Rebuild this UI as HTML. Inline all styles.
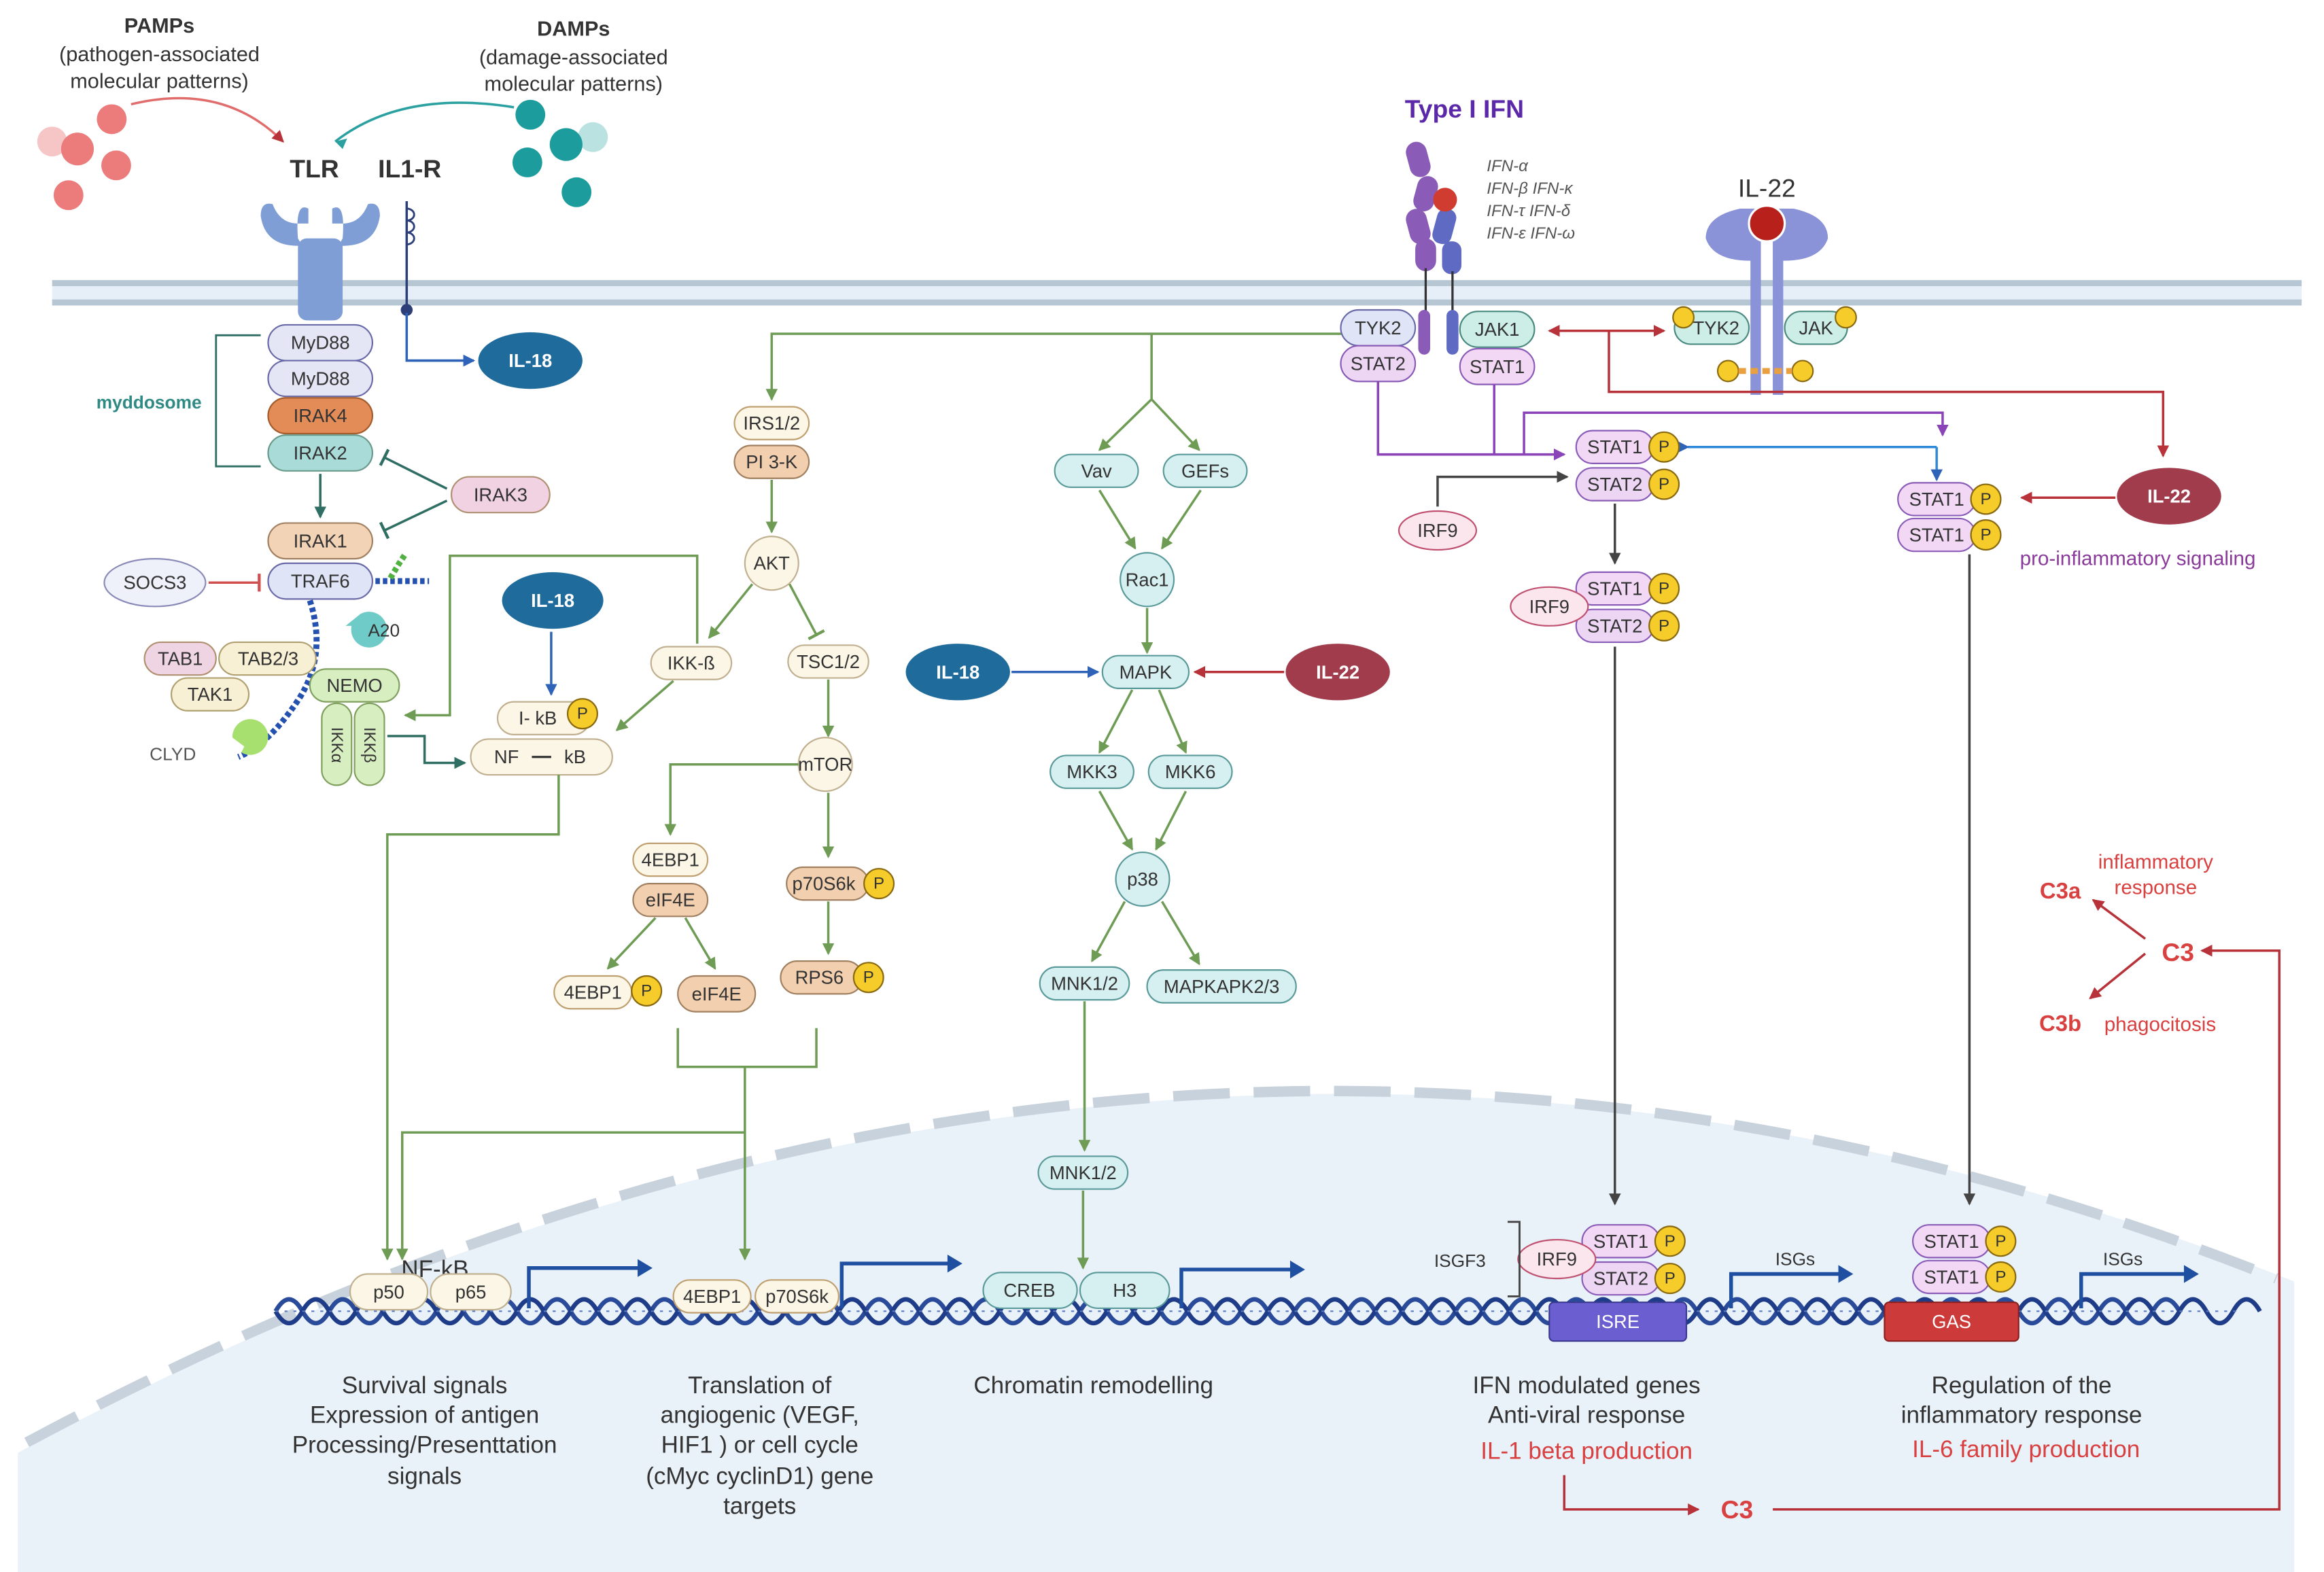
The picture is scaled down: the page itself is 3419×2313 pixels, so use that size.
<!DOCTYPE html>
<html><head><meta charset="utf-8"><style>
html,body{margin:0;padding:0;background:#fff}
svg{display:block}
text{font-family:"Liberation Sans",sans-serif;}
.n{font-size:12.5px;fill:#333;text-anchor:middle;dominant-baseline:central}
.b{font-weight:bold}
.w{fill:#fff;font-weight:bold}
.lbl{font-size:16px;fill:#333;text-anchor:middle}
.red{fill:#d94040}
.g{stroke:#6e9c55;stroke-width:1.6;fill:none}
.t{stroke:#2f6e62;stroke-width:1.6;fill:none}
.bl{stroke:#2e63b8;stroke-width:1.6;fill:none}
.rd{stroke:#b8323a;stroke-width:1.6;fill:none}
.pu{stroke:#8a44b8;stroke-width:1.6;fill:none}
.gy{stroke:#444;stroke-width:1.6;fill:none}
</style></head><body>
<svg width="3419" height="2313" viewBox="0 0 1560 1055" preserveAspectRatio="none" xmlns="http://www.w3.org/2000/svg">
<defs>
<marker id="ag" markerWidth="8" markerHeight="8" refX="7" refY="4" orient="auto" markerUnits="userSpaceOnUse"><path d="M0,0L8,4L0,8z" fill="#6e9c55"/></marker>
<marker id="at" markerWidth="8" markerHeight="8" refX="7" refY="4" orient="auto" markerUnits="userSpaceOnUse"><path d="M0,0L8,4L0,8z" fill="#2f6e62"/></marker>
<marker id="ab" markerWidth="8" markerHeight="8" refX="7" refY="4" orient="auto" markerUnits="userSpaceOnUse"><path d="M0,0L8,4L0,8z" fill="#2e63b8"/></marker>
<marker id="ar" markerWidth="8" markerHeight="8" refX="7" refY="4" orient="auto-start-reverse" markerUnits="userSpaceOnUse"><path d="M0,0L8,4L0,8z" fill="#b8323a"/></marker>
<marker id="ap" markerWidth="8" markerHeight="8" refX="7" refY="4" orient="auto" markerUnits="userSpaceOnUse"><path d="M0,0L8,4L0,8z" fill="#8a44b8"/></marker>
<marker id="ay" markerWidth="8" markerHeight="8" refX="7" refY="4" orient="auto" markerUnits="userSpaceOnUse"><path d="M0,0L8,4L0,8z" fill="#444"/></marker>
<marker id="tt" markerWidth="2" markerHeight="12" refX="1" refY="6" orient="auto" markerUnits="userSpaceOnUse"><rect x="0" y="0" width="2" height="12" fill="#2f6e62"/></marker>
<marker id="tr" markerWidth="2" markerHeight="12" refX="1" refY="6" orient="auto" markerUnits="userSpaceOnUse"><rect x="0" y="0" width="2" height="12" fill="#d05050"/></marker>
<marker id="tg" markerWidth="2" markerHeight="12" refX="1" refY="6" orient="auto" markerUnits="userSpaceOnUse"><rect x="0" y="0" width="2" height="12" fill="#6e9c55"/></marker>
</defs>

<!-- nucleus -->
<path d="M12 1055 L12 975 Q 780 560 1540 860 L1540 1055 Z" fill="#e9f1f9"/>
<path d="M18 968 Q 780 560 1528 858" fill="none" stroke="#c8d2dc" stroke-width="7" stroke-dasharray="38 16"/>

<!-- membrane -->
<rect x="35" y="189" width="1510" height="15" fill="#e6eef7"/>
<line x1="35" y1="190" x2="1545" y2="190" stroke="#b7c6d3" stroke-width="4"/>
<line x1="35" y1="203" x2="1545" y2="203" stroke="#b7c6d3" stroke-width="4"/>

<!-- PAMPs / DAMPs -->
<text x="107" y="22" class="lbl b" style="font-size:14px">PAMPs</text>
<text x="107" y="41" class="lbl" style="font-size:14px">(pathogen-associated</text>
<text x="107" y="59" class="lbl" style="font-size:14px">molecular patterns)</text>
<text x="385" y="24" class="lbl b" style="font-size:14px">DAMPs</text>
<text x="385" y="43" class="lbl" style="font-size:14px">(damage-associated</text>
<text x="385" y="61" class="lbl" style="font-size:14px">molecular patterns)</text>
<circle cx="35" cy="95" r="10" fill="#f6c6c6"/><circle cx="52" cy="100" r="11" fill="#ec7b7b"/>
<circle cx="75" cy="80" r="10" fill="#ec7b7b"/><circle cx="78" cy="111" r="10" fill="#ec7b7b"/><circle cx="46" cy="131" r="10" fill="#ec7b7b"/>
<circle cx="356" cy="77" r="10" fill="#1c9c9c"/><circle cx="398" cy="92" r="10" fill="#b9e2e0"/><circle cx="380" cy="97" r="11" fill="#1c9c9c"/>
<circle cx="354" cy="109" r="10" fill="#1c9c9c"/><circle cx="387" cy="129" r="10" fill="#1c9c9c"/>
<path d="M88 70 Q 150 55 190 95" fill="none" stroke="#e06c6c" stroke-width="1.6" marker-end="url(#ar)"/>
<path d="M345 72 Q 270 60 225 95" fill="none" stroke="#2aa0a0" stroke-width="1.6"/>
<path d="M225 95 l8 -2 l-3 7z" fill="#2aa0a0"/>
<text x="211" y="119" class="lbl b" style="font-size:17px">TLR</text>
<text x="275" y="119" class="lbl b" style="font-size:17px">IL1-R</text>

<!-- TLR receptor -->
<path d="M175 145 Q175 135 183 137 Q188 150 200 150 L207 150 L207 140 Q198 135 200 160 Q205 168 207 175 L207 215 L223 215 L223 175 Q225 168 230 160 Q232 135 223 140 L223 150 L230 150 Q242 150 247 137 Q255 135 255 145 Q252 165 230 165 L200 165 Q178 165 175 145Z" fill="#7f9ed6"/>
<rect x="200" y="160" width="30" height="55" rx="6" fill="#7f9ed6"/>
<!-- IL1-R -->
<line x1="273" y1="135" x2="273" y2="208" stroke="#2c3f78" stroke-width="1.6"/>
<path d="M273 140 a5 4 0 1 1 0 8 a5 4 0 1 1 0 8 a5 4 0 1 1 0 8" fill="none" stroke="#2c3f78" stroke-width="1.3"/>
<circle cx="273" cy="208" r="4" fill="#2c3f78"/>
<path d="M273 210 L273 242 L318 242" class="bl" marker-end="url(#ab)"/>
<ellipse cx="356" cy="242" rx="35" ry="19" fill="#1f6b9c"/><text x="356" y="242" class="n w">IL-18</text>

<!-- myddosome -->
<path d="M175 225 L145 225 L145 313 L175 313" fill="none" stroke="#2f6e62" stroke-width="1.3"/>
<text x="100" y="270" class="n b" style="fill:#2f8a84;font-size:12px">myddosome</text>
<rect x="180" y="218" width="70" height="24" rx="12" fill="#e4e6f6" stroke="#6a6aa8"/><text x="215" y="230" class="n">MyD88</text>
<rect x="180" y="242" width="70" height="24" rx="12" fill="#e4e6f6" stroke="#6a6aa8"/><text x="215" y="254" class="n">MyD88</text>
<rect x="180" y="267" width="70" height="24" rx="12" fill="#e48c57" stroke="#a45c2c"/><text x="215" y="279" class="n">IRAK4</text>
<rect x="180" y="292" width="70" height="24" rx="12" fill="#a9dcd9" stroke="#6a9a8a"/><text x="215" y="304" class="n">IRAK2</text>
<line x1="215" y1="318" x2="215" y2="347" class="t" marker-end="url(#at)"/>
<rect x="303" y="320" width="66" height="24" rx="12" fill="#f0d2e2" stroke="#b09070"/><text x="336" y="332" class="n">IRAK3</text>
<line x1="300" y1="328" x2="258" y2="307" class="t" marker-end="url(#tt)"/>
<line x1="300" y1="336" x2="258" y2="356" class="t" marker-end="url(#tt)"/>
<rect x="180" y="351" width="70" height="24" rx="12" fill="#f2d3b5" stroke="#a08060"/><text x="215" y="363" class="n">IRAK1</text>
<rect x="180" y="378" width="70" height="24" rx="12" fill="#dfe4f6" stroke="#6a6aa8"/><text x="215" y="390" class="n">TRAF6</text>
<ellipse cx="104" cy="391" rx="34" ry="16" fill="#eef0fa" stroke="#8a8ab8"/><text x="104" y="391" class="n">SOCS3</text>
<line x1="140" y1="391" x2="174" y2="391" stroke="#d05050" stroke-width="1.6" marker-end="url(#tr)"/>
<!-- ubiquitin chains -->
<path d="M252 390 L288 390" stroke="#2450b0" stroke-width="4" stroke-dasharray="3 2"/>
<path d="M262 388 L268 378 L272 372" stroke="#50b040" stroke-width="4" stroke-dasharray="3 2" fill="none"/>
<path d="M208 403 Q 220 440 200 470 Q 180 500 160 508" stroke="#2450b0" stroke-width="4" stroke-dasharray="3 2" fill="none"/>
<path d="M236 420 a12 12 0 1 0 6 -8 l-10 8z" fill="#6fcbc8"/>
<text x="247" y="423" class="n" style="text-anchor:start;font-size:12px">A20</text>
<path d="M162 505 a12 12 0 1 0 -6 -10 l8 6z" fill="#a8e070"/>
<text x="116" y="506" class="n" style="font-size:12px;fill:#555">CLYD</text>
<rect x="97" y="431" width="48" height="22" rx="11" fill="#efd5e3" stroke="#b09070"/><text x="121" y="442" class="n">TAB1</text>
<rect x="147" y="431" width="65" height="22" rx="11" fill="#f8f0d4" stroke="#b0a070"/><text x="180" y="442" class="n">TAB2/3</text>
<rect x="115" y="455" width="52" height="22" rx="11" fill="#f8f0d4" stroke="#b0a070"/><text x="141" y="466" class="n">TAK1</text>
<rect x="208" y="449" width="60" height="22" rx="11" fill="#d7eec1" stroke="#80a060"/><text x="238" y="460" class="n">NEMO</text>
<rect x="216" y="472" width="20" height="55" rx="10" fill="#d7eec1" stroke="#80a060"/>
<rect x="238" y="472" width="20" height="55" rx="10" fill="#d7eec1" stroke="#80a060"/>
<text x="226" y="500" class="n" transform="rotate(90 226 500)" style="font-size:11px">IKKα</text>
<text x="248" y="500" class="n" transform="rotate(90 248 500)" style="font-size:11px">IKKβ</text>
<path d="M260 494 L285 494 L285 512 L312 512" class="t" marker-end="url(#at)"/>
<path d="M468 432 L468 373 L302 373 L302 480 L272 480" class="g" marker-end="url(#ag)"/>
<ellipse cx="371" cy="403" rx="34" ry="19" fill="#1f6b9c"/><text x="371" y="403" class="n w">IL-18</text>
<line x1="370" y1="424" x2="370" y2="466" class="bl" marker-end="url(#ab)"/>
<rect x="334" y="471" width="62" height="22" rx="11" fill="#fbf6e6" stroke="#c0b090"/><text x="361" y="482" class="n">I- kB</text>
<circle cx="391" cy="479" r="10" fill="#f5cc2a" stroke="#8a6a10"/><text x="391" y="479" class="n" style="font-size:11px">P</text>
<rect x="316" y="496" width="95" height="24" rx="12" fill="#fbf6e6" stroke="#c0b090"/><text x="340" y="508" class="n">NF</text><line x1="357" y1="508" x2="370" y2="508" stroke="#333" stroke-width="1.5"/><text x="386" y="508" class="n">kB</text>
<path d="M375 520 L375 560 L260 560 L260 845" class="g" marker-end="url(#ag)"/>

<!-- PI3K / mTOR -->
<path d="M905 224 L518 224 L518 268" class="g" marker-end="url(#ag)"/>
<path d="M773 224 L773 268 L738 302" class="g" marker-end="url(#ag)"/>
<path d="M773 268 L805 302" class="g" marker-end="url(#ag)"/>
<rect x="493" y="273" width="50" height="22" rx="11" fill="#fbf6e6" stroke="#c0a070"/><text x="518" y="284" class="n">IRS1/2</text>
<rect x="493" y="299" width="50" height="22" rx="11" fill="#f2cfae" stroke="#a08060"/><text x="518" y="310" class="n">PI 3-K</text>
<line x1="518" y1="322" x2="518" y2="357" class="g" marker-end="url(#ag)"/>
<circle cx="518" cy="378" r="18" fill="#fbf6e6" stroke="#c0b090"/><text x="518" y="378" class="n">AKT</text>
<line x1="505" y1="392" x2="476" y2="428" class="g" marker-end="url(#ag)"/>
<line x1="530" y1="392" x2="548" y2="426" class="g" marker-end="url(#tg)"/>
<rect x="437" y="434" width="54" height="22" rx="11" fill="#fbf6e6" stroke="#c0b090"/><text x="464" y="445" class="n">IKK-ß</text>
<line x1="452" y1="457" x2="414" y2="490" class="g" marker-end="url(#ag)"/>
<rect x="529" y="433" width="54" height="22" rx="11" fill="#fbf6e6" stroke="#c0b090"/><text x="556" y="444" class="n">TSC1/2</text>
<line x1="556" y1="456" x2="556" y2="494" class="g" marker-end="url(#ag)"/>
<circle cx="554" cy="513" r="18" fill="#fbf6e6" stroke="#c0b090"/><text x="554" y="513" class="n">mTOR</text>
<path d="M536 513 L450 513 L450 560" class="g" marker-end="url(#ag)"/>
<line x1="556" y1="532" x2="556" y2="575" class="g" marker-end="url(#ag)"/>
<rect x="425" y="566" width="50" height="22" rx="11" fill="#fbf6e6" stroke="#c0a070"/><text x="450" y="577" class="n">4EBP1</text>
<rect x="425" y="593" width="50" height="22" rx="11" fill="#f2cfae" stroke="#a08060"/><text x="450" y="604" class="n">eIF4E</text>
<line x1="440" y1="616" x2="408" y2="650" class="g" marker-end="url(#ag)"/>
<line x1="460" y1="616" x2="480" y2="650" class="g" marker-end="url(#ag)"/>
<rect x="528" y="582" width="55" height="22" rx="11" fill="#f2cfae" stroke="#a08060"/><text x="553" y="593" class="n">p70S6k</text>
<circle cx="590" cy="593" r="10" fill="#f5cc2a" stroke="#8a6a10"/><text x="590" y="593" class="n" style="font-size:11px">P</text>
<line x1="556" y1="605" x2="556" y2="640" class="g" marker-end="url(#ag)"/>
<rect x="524" y="645" width="55" height="22" rx="11" fill="#f2cfae" stroke="#a08060"/><text x="550" y="656" class="n">RPS6</text>
<circle cx="583" cy="656" r="10" fill="#f5cc2a" stroke="#8a6a10"/><text x="583" y="656" class="n" style="font-size:11px">P</text>
<rect x="372" y="655" width="52" height="22" rx="11" fill="#fbf6e6" stroke="#c0a070"/><text x="398" y="666" class="n">4EBP1</text>
<circle cx="434" cy="665" r="10" fill="#f5cc2a" stroke="#8a6a10"/><text x="434" y="665" class="n" style="font-size:11px">P</text>
<rect x="455" y="655" width="52" height="24" rx="12" fill="#f2cfae" stroke="#a08060"/><text x="481" y="667" class="n">eIF4E</text>
<path d="M455 690 L455 716 L548 716 L548 690" class="g"/>
<path d="M500 716 L500 845" class="g" marker-end="url(#ag)"/>
<path d="M500 760 L270 760 L270 845" class="g" marker-end="url(#ag)"/>

<!-- MAPK -->
<rect x="708" y="305" width="56" height="22" rx="11" fill="#d6eff0" stroke="#5a9a9a"/><text x="736" y="316" class="n">Vav</text>
<rect x="781" y="305" width="56" height="22" rx="11" fill="#d6eff0" stroke="#5a9a9a"/><text x="809" y="316" class="n">GEFs</text>
<line x1="738" y1="329" x2="762" y2="368" class="g" marker-end="url(#ag)"/>
<line x1="806" y1="329" x2="780" y2="368" class="g" marker-end="url(#ag)"/>
<circle cx="770" cy="389" r="18" fill="#d6eff0" stroke="#5a9a9a"/><text x="770" y="389" class="n">Rac1</text>
<line x1="770" y1="408" x2="770" y2="438" class="g" marker-end="url(#ag)"/>
<rect x="740" y="440" width="58" height="22" rx="11" fill="#d6eff0" stroke="#5a9a9a"/><text x="769" y="451" class="n">MAPK</text>
<ellipse cx="643" cy="451" rx="35" ry="19" fill="#1f6b9c"/><text x="643" y="451" class="n w">IL-18</text>
<line x1="679" y1="451" x2="737" y2="451" class="bl" marker-end="url(#ab)"/>
<ellipse cx="898" cy="451" rx="35" ry="19" fill="#a03c4c"/><text x="898" y="451" class="n w">IL-22</text>
<line x1="862" y1="451" x2="802" y2="451" class="rd" marker-end="url(#ar)"/>
<line x1="760" y1="463" x2="738" y2="505" class="g" marker-end="url(#ag)"/>
<line x1="778" y1="463" x2="796" y2="505" class="g" marker-end="url(#ag)"/>
<rect x="705" y="507" width="56" height="22" rx="11" fill="#d6eff0" stroke="#5a9a9a"/><text x="733" y="518" class="n">MKK3</text>
<rect x="771" y="507" width="56" height="22" rx="11" fill="#d6eff0" stroke="#5a9a9a"/><text x="799" y="518" class="n">MKK6</text>
<line x1="738" y1="531" x2="760" y2="570" class="g" marker-end="url(#ag)"/>
<line x1="796" y1="531" x2="776" y2="570" class="g" marker-end="url(#ag)"/>
<circle cx="767" cy="590" r="18" fill="#d6eff0" stroke="#5a9a9a"/><text x="767" y="590" class="n">p38</text>
<line x1="755" y1="605" x2="733" y2="645" class="g" marker-end="url(#ag)"/>
<line x1="780" y1="605" x2="805" y2="647" class="g" marker-end="url(#ag)"/>
<rect x="698" y="649" width="60" height="22" rx="11" fill="#d6eff0" stroke="#5a9a9a"/><text x="728" y="660" class="n">MNK1/2</text>
<rect x="770" y="651" width="100" height="22" rx="11" fill="#d6eff0" stroke="#5a9a9a"/><text x="820" y="662" class="n">MAPKAPK2/3</text>
<line x1="728" y1="672" x2="728" y2="772" class="g" marker-end="url(#ag)"/>
<rect x="697" y="776" width="60" height="22" rx="11" fill="#d6eff0" stroke="#5a9a9a"/><text x="727" y="787" class="n">MNK1/2</text>
<line x1="727" y1="799" x2="727" y2="851" class="g" marker-end="url(#ag)"/>

<!-- Type I IFN -->
<text x="983" y="79" class="lbl b" style="fill:#5a28a8;font-size:17px">Type I IFN</text>
<g fill="#8a5cb8"><rect x="945" y="95" width="14" height="24" rx="7" transform="rotate(-15 952 107)"/><rect x="950" y="118" width="14" height="24" rx="7" transform="rotate(15 957 130)"/><rect x="945" y="140" width="14" height="24" rx="7" transform="rotate(-15 952 152)"/><rect x="950" y="160" width="14" height="22" rx="7"/></g>
<line x1="957" y1="180" x2="957" y2="210" stroke="#333" stroke-width="1.5"/>
<rect x="952" y="208" width="8" height="30" rx="4" fill="#8a5cb8"/>
<g fill="#5f6ac2"><rect x="963" y="140" width="13" height="24" rx="6" transform="rotate(15 970 152)"/><rect x="968" y="162" width="13" height="22" rx="6"/></g>
<circle cx="970" cy="134" r="8" fill="#d03c30"/>
<line x1="975" y1="182" x2="975" y2="210" stroke="#333" stroke-width="1.5"/>
<rect x="971" y="208" width="8" height="30" rx="4" fill="#5f6ac2"/>
<g style="font-size:11px;fill:#555;font-style:italic"><text x="998" y="115">IFN-α</text><text x="998" y="130">IFN-β  IFN-κ</text><text x="998" y="145">IFN-τ  IFN-δ</text><text x="998" y="160">IFN-ε  IFN-ω</text></g>
<rect x="900" y="208" width="50" height="24" rx="12" fill="#dfe4f6" stroke="#6a6aa8"/><text x="925" y="220" class="n">TYK2</text>
<rect x="900" y="232" width="50" height="24" rx="12" fill="#ecd6f4" stroke="#8a5cb8"/><text x="925" y="244" class="n">STAT2</text>
<rect x="980" y="209" width="50" height="24" rx="12" fill="#cdeee6" stroke="#4a8a80"/><text x="1005" y="221" class="n">JAK1</text>
<rect x="980" y="234" width="50" height="24" rx="12" fill="#f3d8f6" stroke="#8a5cb8"/><text x="1005" y="246" class="n">STAT1</text>

<!-- IL-22 receptor -->
<text x="1186" y="132" class="lbl" style="font-size:17px">IL-22</text>
<path d="M1168 140 Q1145 145 1145 160 Q1150 175 1175 175 L1175 265 L1182 265 L1182 140Z" fill="#8a92d8"/>
<path d="M1204 140 Q1227 145 1227 160 Q1222 175 1197 175 L1197 265 L1190 265 L1190 140Z" fill="#8a92d8"/>
<circle cx="1186" cy="150" r="12" fill="#b8201c" stroke="#fff" stroke-width="1.5"/>
<rect x="1124" y="209" width="50" height="22" rx="11" fill="#cdeee6" stroke="#4a8a80"/><text x="1152" y="220" class="n">TYK2</text>
<rect x="1198" y="209" width="42" height="22" rx="11" fill="#cdeee6" stroke="#4a8a80"/><text x="1219" y="220" class="n">JAK</text>
<circle cx="1130" cy="213" r="7" fill="#f5cc2a" stroke="#8a6a10"/><circle cx="1239" cy="213" r="7" fill="#f5cc2a" stroke="#8a6a10"/>
<circle cx="1160" cy="249" r="7" fill="#f5cc2a" stroke="#8a6a10"/><circle cx="1210" cy="249" r="7" fill="#f5cc2a" stroke="#8a6a10"/>
<line x1="1167" y1="249" x2="1203" y2="249" stroke="#e8a040" stroke-width="4" stroke-dasharray="5 3"/>
<line x1="1040" y1="222" x2="1117" y2="222" class="rd" marker-end="url(#ar)" marker-start="url(#ar)"/>
<path d="M1080 222 L1080 263 L1452 263 L1452 306" class="rd" marker-end="url(#ar)"/>
<path d="M925 256 L925 305 L1050 305" class="pu" marker-end="url(#ap)"/>
<path d="M1003 258 L1003 305" class="pu"/>
<path d="M1023 305 L1023 277 L1304 277 L1304 292" class="pu" marker-end="url(#ap)"/>
<line x1="1133" y1="300" x2="1300" y2="300" stroke="#2e8ad8" stroke-width="1.6" marker-start="url(#ab)"/>
<line x1="1300" y1="300" x2="1300" y2="322" stroke="#2e8ad8" stroke-width="1.6" marker-end="url(#ab)"/>
<path d="M965 340 L965 320 L1052 320" class="gy" marker-end="url(#ay)"/>
<ellipse cx="965" cy="356" rx="26" ry="13" fill="#fbe6ee" stroke="#c05070"/><text x="965" y="356" class="n">IRF9</text>

<!-- STAT dimers -->
<g id="d1">
<rect x="1058" y="289" width="52" height="22" rx="11" fill="#f3d8f6" stroke="#8a5cb8"/><text x="1084" y="300" class="n">STAT1</text>
<rect x="1058" y="314" width="52" height="22" rx="11" fill="#ecd6f4" stroke="#8a5cb8"/><text x="1084" y="325" class="n">STAT2</text>
<circle cx="1117" cy="300" r="10" fill="#f5cc2a" stroke="#8a6a10"/><text x="1117" y="300" class="n" style="font-size:11px">P</text>
<circle cx="1117" cy="325" r="10" fill="#f5cc2a" stroke="#8a6a10"/><text x="1117" y="325" class="n" style="font-size:11px">P</text>
</g>
<use href="#d1" x="0" y="95"/>
<use href="#d1" x="4" y="533"/>
<line x1="1084" y1="338" x2="1084" y2="378" class="gy" marker-end="url(#ay)"/>
<ellipse cx="1040" cy="407" rx="26" ry="13" fill="#fbe6ee" stroke="#c05070"/><text x="1040" y="407" class="n">IRF9</text>
<line x1="1084" y1="434" x2="1084" y2="808" class="gy" marker-end="url(#ay)"/>
<g id="d2">
<rect x="1274" y="324" width="52" height="22" rx="11" fill="#f3d8f6" stroke="#8a5cb8"/><text x="1300" y="335" class="n">STAT1</text>
<rect x="1274" y="348" width="52" height="22" rx="11" fill="#f3d8f6" stroke="#8a5cb8"/><text x="1300" y="359" class="n">STAT1</text>
<circle cx="1333" cy="335" r="10" fill="#f5cc2a" stroke="#8a6a10"/><text x="1333" y="335" class="n" style="font-size:11px">P</text>
<circle cx="1333" cy="359" r="10" fill="#f5cc2a" stroke="#8a6a10"/><text x="1333" y="359" class="n" style="font-size:11px">P</text>
</g>
<use href="#d2" x="10" y="498"/>
<ellipse cx="1456" cy="333" rx="35" ry="19" fill="#a03c4c"/><text x="1456" y="333" class="n w">IL-22</text>
<line x1="1420" y1="334" x2="1357" y2="334" class="rd" marker-end="url(#ar)"/>
<text x="1435" y="375" class="n" style="fill:#8a3a9a;font-size:13.5px">pro-inflammatory signaling</text>
<line x1="1322" y1="372" x2="1322" y2="808" class="gy" marker-end="url(#ay)"/>

<!-- DNA -->
<path d="M185 880 q 9 -16 18 0 t 18 0 t 18 0 t 18 0 t 18 0 t 18 0 t 18 0 t 18 0 t 18 0 t 18 0 t 18 0 t 18 0 t 18 0 t 18 0 t 18 0 t 18 0 t 18 0 t 18 0 t 18 0 t 18 0 t 18 0 t 18 0 t 18 0 t 18 0 t 18 0 t 18 0 t 18 0 t 18 0 t 18 0 t 18 0 t 18 0 t 18 0 t 18 0 t 18 0 t 18 0 t 18 0 t 18 0 t 18 0 t 18 0 t 18 0 t 18 0 t 18 0 t 18 0 t 18 0 t 18 0 t 18 0 t 18 0 t 18 0 t 18 0 t 18 0 t 18 0 t 18 0 t 18 0 t 18 0 t 18 0 t 18 0 t 18 0 t 18 0 t 18 0 t 18 0 t 18 0 t 18 0 t 18 0 t 18 0 t 18 0 t 18 0 t 18 0 t 18 0 t 18 0 t 18 0 t 18 0" fill="none" stroke="#2a4a9a" stroke-width="3"/>
<path d="M185 880 q 9 16 18 0 t 18 0 t 18 0 t 18 0 t 18 0 t 18 0 t 18 0 t 18 0 t 18 0 t 18 0 t 18 0 t 18 0 t 18 0 t 18 0 t 18 0 t 18 0 t 18 0 t 18 0 t 18 0 t 18 0 t 18 0 t 18 0 t 18 0 t 18 0 t 18 0 t 18 0 t 18 0 t 18 0 t 18 0 t 18 0 t 18 0 t 18 0 t 18 0 t 18 0 t 18 0 t 18 0 t 18 0 t 18 0 t 18 0 t 18 0 t 18 0 t 18 0 t 18 0 t 18 0 t 18 0 t 18 0 t 18 0 t 18 0 t 18 0 t 18 0 t 18 0 t 18 0 t 18 0 t 18 0 t 18 0 t 18 0 t 18 0 t 18 0 t 18 0 t 18 0 t 18 0 t 18 0 t 18 0 t 18 0 t 18 0 t 18 0 t 18 0 t 18 0 t 18 0 t 18 0 t 18 0 t 18 0 t 18 0 t 18 0" fill="none" stroke="#1f3c88" stroke-width="3"/>
<path d="M185 880 h1320" stroke="#5a7ac0" stroke-width="1" stroke-dasharray="2 4"/>

<!-- nuclear complexes -->
<text x="292" y="857" class="lbl" style="font-size:16px">NF-kB</text>
<rect x="235" y="855" width="52" height="24" rx="12" fill="#fbf6e6" stroke="#c0b090"/><text x="261" y="867" class="n">p50</text>
<rect x="289" y="855" width="54" height="24" rx="12" fill="#fbf6e6" stroke="#c0b090"/><text x="316" y="867" class="n">p65</text>
<rect x="452" y="859" width="52" height="22" rx="11" fill="#fbf6e6" stroke="#c0a070"/><text x="478" y="870" class="n">4EBP1</text>
<rect x="507" y="859" width="56" height="22" rx="11" fill="#fbf6e6" stroke="#c0a070"/><text x="535" y="870" class="n">p70S6k</text>
<rect x="660" y="854" width="63" height="24" rx="12" fill="#d6eff0" stroke="#5a9a9a"/><text x="691" y="866" class="n">CREB</text>
<rect x="725" y="854" width="60" height="24" rx="12" fill="#d6eff0" stroke="#5a9a9a"/><text x="755" y="866" class="n">H3</text>
<g class="bl" style="stroke:#1f4fa0;stroke-width:2.5">
<path d="M355 878 L355 851 L430 851"/><path d="M565 878 L565 848 L638 848"/><path d="M793 878 L793 852 L868 852"/>
<path d="M1162 878 L1162 855 L1236 855"/><path d="M1397 878 L1397 855 L1468 855"/></g>
<g fill="#1f4fa0"><path d="M428 845 L438 851 L428 857z"/><path d="M636 842 L646 848 L636 854z"/><path d="M866 846 L876 852 L866 858z"/><path d="M1234 849 L1244 855 L1234 861z"/><path d="M1466 849 L1476 855 L1466 861z"/></g>
<text x="1205" y="845" class="n" style="font-size:12px">ISGs</text>
<text x="1425" y="845" class="n" style="font-size:12px">ISGs</text>
<ellipse cx="1045" cy="845" rx="26" ry="13" fill="#fbe6ee" stroke="#c05070"/><text x="1045" y="845" class="n">IRF9</text>
<path d="M1012 820 L1020 820 L1020 870 L1012 870" fill="none" stroke="#444" stroke-width="1.3"/>
<text x="980" y="846" class="n" style="font-size:12px">ISGF3</text>
<rect x="1040" y="874" width="92" height="26" rx="3" fill="#6a5ed0" stroke="#3a3a90"/><text x="1086" y="887" class="n w" style="font-weight:normal">ISRE</text>
<rect x="1265" y="874" width="90" height="26" rx="3" fill="#cc3a3a" stroke="#8a2020"/><text x="1310" y="887" class="n w" style="font-weight:normal">GAS</text>

<!-- bottom texts -->
<g class="lbl"><text x="285" y="935">Survival signals</text><text x="285" y="955">Expression of antigen</text><text x="285" y="975">Processing/Presenttation</text><text x="285" y="996">signals</text>
<text x="510" y="935">Translation of</text><text x="510" y="955">angiogenic (VEGF,</text><text x="510" y="975">HIF1 ) or cell cycle</text><text x="510" y="996">(cMyc cyclinD1) gene</text><text x="510" y="1016">targets</text>
<text x="734" y="935">Chromatin remodelling</text>
<text x="1065" y="935">IFN modulated genes</text><text x="1065" y="955">Anti-viral response</text><text x="1065" y="979" class="red">IL-1 beta  production</text>
<text x="1357" y="935">Regulation of the</text><text x="1357" y="955">inflammatory response</text><text x="1360" y="978" class="red">IL-6 family production</text></g>
<path d="M1050 990 L1050 1013 L1140 1013" class="rd" marker-end="url(#ar)"/>
<text x="1166" y="1019" class="lbl b red" style="font-size:17px">C3</text>
<path d="M1190 1013 L1530 1013 L1530 638 L1478 638" class="rd" marker-end="url(#ar)"/>
<text x="1462" y="645" class="lbl b red" style="font-size:17px">C3</text>
<text x="1383" y="603" class="lbl b red" style="font-size:15px">C3a</text>
<text x="1383" y="692" class="lbl b red" style="font-size:15px">C3b</text>
<text x="1447" y="583" class="lbl red" style="font-size:13.5px">inflammatory</text>
<text x="1447" y="600" class="lbl red" style="font-size:13.5px">response</text>
<text x="1450" y="692" class="lbl red" style="font-size:13.5px">phagocitosis</text>
<line x1="1440" y1="630" x2="1405" y2="604" class="rd" marker-end="url(#ar)"/>
<line x1="1440" y1="640" x2="1403" y2="670" class="rd" marker-end="url(#ar)"/>
</svg>
</body></html>
